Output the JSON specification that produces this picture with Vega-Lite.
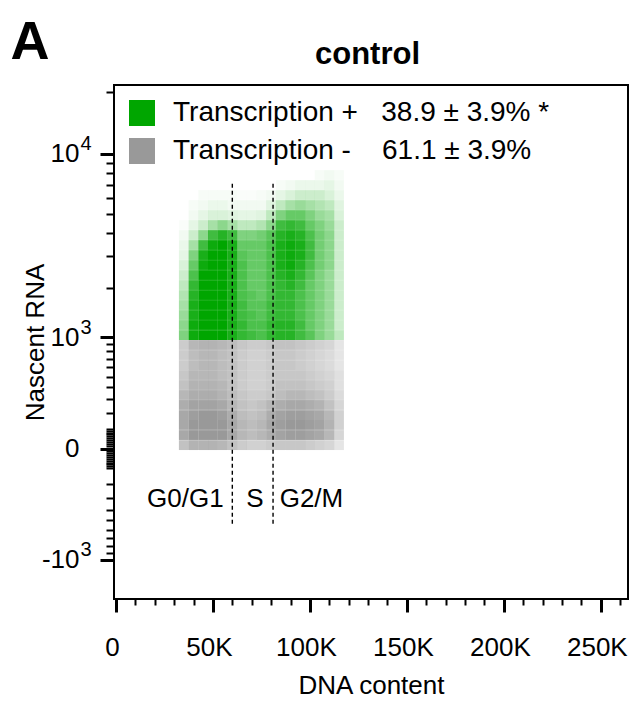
{
"$schema": "https://vega.github.io/schema/vega-lite/v6.json",
"width": 514, "height": 514,
"autosize": "none",
"padding": {"left": 114, "top": 85, "right": 2, "bottom": 102},
"background": "white",
"config": {
  "view": {"stroke": "black", "strokeWidth": 2},
  "font": "Liberation Sans",
  "axis": {"grid": false, "domain": false, "labelFont": "Liberation Sans", "titleFont": "Liberation Sans", "labelColor": "black", "titleColor": "black", "tickColor": "black", "titleFontWeight": "normal", "labelOverlap": false, "labelBound": false, "labelFlush": false}
},
"datasets": {
"pos": [
{"x":105,"y":7856,"d":0.03},{"x":110,"y":7856,"d":0.05},{"x":115,"y":7856,"d":0.03},
{"x":85,"y":7004,"d":0.03},{"x":90,"y":7004,"d":0.05},{"x":95,"y":7004,"d":0.08},{"x":100,"y":7004,"d":0.08},{"x":105,"y":7004,"d":0.08},{"x":110,"y":7004,"d":0.1},{"x":115,"y":7004,"d":0.05},
{"x":45,"y":6240,"d":0.03},{"x":50,"y":6240,"d":0.03},{"x":55,"y":6240,"d":0.03},{"x":60,"y":6240,"d":0.03},{"x":65,"y":6240,"d":0.02},{"x":70,"y":6240,"d":0.02},{"x":75,"y":6240,"d":0.03},{"x":80,"y":6240,"d":0.05},{"x":85,"y":6240,"d":0.1},{"x":90,"y":6240,"d":0.15},{"x":95,"y":6240,"d":0.2},{"x":100,"y":6240,"d":0.2},{"x":105,"y":6240,"d":0.2},{"x":110,"y":6240,"d":0.15},{"x":115,"y":6240,"d":0.08},
{"x":40,"y":5554,"d":0.03},{"x":45,"y":5554,"d":0.05},{"x":50,"y":5554,"d":0.08},{"x":55,"y":5554,"d":0.08},{"x":60,"y":5554,"d":0.05},{"x":65,"y":5554,"d":0.05},{"x":70,"y":5554,"d":0.05},{"x":75,"y":5554,"d":0.05},{"x":80,"y":5554,"d":0.12},{"x":85,"y":5554,"d":0.25},{"x":90,"y":5554,"d":0.35},{"x":95,"y":5554,"d":0.4},{"x":100,"y":5554,"d":0.35},{"x":105,"y":5554,"d":0.3},{"x":110,"y":5554,"d":0.25},{"x":115,"y":5554,"d":0.12},
{"x":40,"y":4939,"d":0.05},{"x":45,"y":4939,"d":0.1},{"x":50,"y":4939,"d":0.15},{"x":55,"y":4939,"d":0.15},{"x":60,"y":4939,"d":0.12},{"x":65,"y":4939,"d":0.1},{"x":70,"y":4939,"d":0.1},{"x":75,"y":4939,"d":0.12},{"x":80,"y":4939,"d":0.25},{"x":85,"y":4939,"d":0.5},{"x":90,"y":4939,"d":0.6},{"x":95,"y":4939,"d":0.6},{"x":100,"y":4939,"d":0.5},{"x":105,"y":4939,"d":0.4},{"x":110,"y":4939,"d":0.35},{"x":115,"y":4939,"d":0.15},
{"x":35,"y":4387,"d":0.02},{"x":40,"y":4387,"d":0.1},{"x":45,"y":4387,"d":0.2},{"x":50,"y":4387,"d":0.35},{"x":55,"y":4387,"d":0.45},{"x":60,"y":4387,"d":0.35},{"x":65,"y":4387,"d":0.25},{"x":70,"y":4387,"d":0.25},{"x":75,"y":4387,"d":0.3},{"x":80,"y":4387,"d":0.45},{"x":85,"y":4387,"d":0.75},{"x":90,"y":4387,"d":0.8},{"x":95,"y":4387,"d":0.75},{"x":100,"y":4387,"d":0.6},{"x":105,"y":4387,"d":0.5},{"x":110,"y":4387,"d":0.4},{"x":115,"y":4387,"d":0.2},
{"x":35,"y":3892,"d":0.05},{"x":40,"y":3892,"d":0.2},{"x":45,"y":3892,"d":0.45},{"x":50,"y":3892,"d":0.75},{"x":55,"y":3892,"d":0.85},{"x":60,"y":3892,"d":0.75},{"x":65,"y":3892,"d":0.5},{"x":70,"y":3892,"d":0.5},{"x":75,"y":3892,"d":0.55},{"x":80,"y":3892,"d":0.65},{"x":85,"y":3892,"d":0.85},{"x":90,"y":3892,"d":0.9},{"x":95,"y":3892,"d":0.85},{"x":100,"y":3892,"d":0.7},{"x":105,"y":3892,"d":0.55},{"x":110,"y":3892,"d":0.45},{"x":115,"y":3892,"d":0.2},
{"x":35,"y":3448,"d":0.08},{"x":40,"y":3448,"d":0.35},{"x":45,"y":3448,"d":0.75},{"x":50,"y":3448,"d":0.95},{"x":55,"y":3448,"d":1},{"x":60,"y":3448,"d":0.9},{"x":65,"y":3448,"d":0.6},{"x":70,"y":3448,"d":0.6},{"x":75,"y":3448,"d":0.6},{"x":80,"y":3448,"d":0.7},{"x":85,"y":3448,"d":0.9},{"x":90,"y":3448,"d":0.95},{"x":95,"y":3448,"d":0.9},{"x":100,"y":3448,"d":0.75},{"x":105,"y":3448,"d":0.55},{"x":110,"y":3448,"d":0.45},{"x":115,"y":3448,"d":0.2},
{"x":35,"y":3049,"d":0.1},{"x":40,"y":3049,"d":0.5},{"x":45,"y":3049,"d":0.9},{"x":50,"y":3049,"d":1},{"x":55,"y":3049,"d":1},{"x":60,"y":3049,"d":0.9},{"x":65,"y":3049,"d":0.65},{"x":70,"y":3049,"d":0.6},{"x":75,"y":3049,"d":0.6},{"x":80,"y":3049,"d":0.7},{"x":85,"y":3049,"d":0.9},{"x":90,"y":3049,"d":0.95},{"x":95,"y":3049,"d":0.9},{"x":100,"y":3049,"d":0.75},{"x":105,"y":3049,"d":0.55},{"x":110,"y":3049,"d":0.45},{"x":115,"y":3049,"d":0.2},
{"x":35,"y":2692,"d":0.15},{"x":40,"y":2692,"d":0.6},{"x":45,"y":2692,"d":0.95},{"x":50,"y":2692,"d":1},{"x":55,"y":2692,"d":1},{"x":60,"y":2692,"d":0.9},{"x":65,"y":2692,"d":0.7},{"x":70,"y":2692,"d":0.6},{"x":75,"y":2692,"d":0.6},{"x":80,"y":2692,"d":0.7},{"x":85,"y":2692,"d":0.9},{"x":90,"y":2692,"d":0.95},{"x":95,"y":2692,"d":0.85},{"x":100,"y":2692,"d":0.7},{"x":105,"y":2692,"d":0.55},{"x":110,"y":2692,"d":0.45},{"x":115,"y":2692,"d":0.2},
{"x":35,"y":2371,"d":0.2},{"x":40,"y":2371,"d":0.7},{"x":45,"y":2371,"d":1},{"x":50,"y":2371,"d":1},{"x":55,"y":2371,"d":1},{"x":60,"y":2371,"d":0.9},{"x":65,"y":2371,"d":0.7},{"x":70,"y":2371,"d":0.6},{"x":75,"y":2371,"d":0.6},{"x":80,"y":2371,"d":0.7},{"x":85,"y":2371,"d":0.85},{"x":90,"y":2371,"d":0.9},{"x":95,"y":2371,"d":0.8},{"x":100,"y":2371,"d":0.65},{"x":105,"y":2371,"d":0.5},{"x":110,"y":2371,"d":0.4},{"x":115,"y":2371,"d":0.2},
{"x":35,"y":2083,"d":0.25},{"x":40,"y":2083,"d":0.8},{"x":45,"y":2083,"d":1},{"x":50,"y":2083,"d":1},{"x":55,"y":2083,"d":1},{"x":60,"y":2083,"d":0.9},{"x":65,"y":2083,"d":0.7},{"x":70,"y":2083,"d":0.6},{"x":75,"y":2083,"d":0.6},{"x":80,"y":2083,"d":0.7},{"x":85,"y":2083,"d":0.8},{"x":90,"y":2083,"d":0.85},{"x":95,"y":2083,"d":0.75},{"x":100,"y":2083,"d":0.6},{"x":105,"y":2083,"d":0.5},{"x":110,"y":2083,"d":0.4},{"x":115,"y":2083,"d":0.2},
{"x":35,"y":1825,"d":0.3},{"x":40,"y":1825,"d":0.85},{"x":45,"y":1825,"d":1},{"x":50,"y":1825,"d":1},{"x":55,"y":1825,"d":1},{"x":60,"y":1825,"d":0.9},{"x":65,"y":1825,"d":0.7},{"x":70,"y":1825,"d":0.65},{"x":75,"y":1825,"d":0.6},{"x":80,"y":1825,"d":0.7},{"x":85,"y":1825,"d":0.8},{"x":90,"y":1825,"d":0.8},{"x":95,"y":1825,"d":0.7},{"x":100,"y":1825,"d":0.6},{"x":105,"y":1825,"d":0.5},{"x":110,"y":1825,"d":0.4},{"x":115,"y":1825,"d":0.2},
{"x":35,"y":1594,"d":0.35},{"x":40,"y":1594,"d":0.9},{"x":45,"y":1594,"d":1},{"x":50,"y":1594,"d":1},{"x":55,"y":1594,"d":1},{"x":60,"y":1594,"d":0.9},{"x":65,"y":1594,"d":0.75},{"x":70,"y":1594,"d":0.65},{"x":75,"y":1594,"d":0.65},{"x":80,"y":1594,"d":0.75},{"x":85,"y":1594,"d":0.8},{"x":90,"y":1594,"d":0.8},{"x":95,"y":1594,"d":0.7},{"x":100,"y":1594,"d":0.6},{"x":105,"y":1594,"d":0.5},{"x":110,"y":1594,"d":0.4},{"x":115,"y":1594,"d":0.2},
{"x":35,"y":1386,"d":0.4},{"x":40,"y":1386,"d":0.9},{"x":45,"y":1386,"d":1},{"x":50,"y":1386,"d":1},{"x":55,"y":1386,"d":1},{"x":60,"y":1386,"d":0.9},{"x":65,"y":1386,"d":0.75},{"x":70,"y":1386,"d":0.7},{"x":75,"y":1386,"d":0.65},{"x":80,"y":1386,"d":0.75},{"x":85,"y":1386,"d":0.8},{"x":90,"y":1386,"d":0.8},{"x":95,"y":1386,"d":0.7},{"x":100,"y":1386,"d":0.6},{"x":105,"y":1386,"d":0.5},{"x":110,"y":1386,"d":0.4},{"x":115,"y":1386,"d":0.2},
{"x":35,"y":1200,"d":0.45},{"x":40,"y":1200,"d":0.95},{"x":45,"y":1200,"d":1},{"x":50,"y":1200,"d":1},{"x":55,"y":1200,"d":1},{"x":60,"y":1200,"d":0.9},{"x":65,"y":1200,"d":0.8},{"x":70,"y":1200,"d":0.7},{"x":75,"y":1200,"d":0.7},{"x":80,"y":1200,"d":0.8},{"x":85,"y":1200,"d":0.85},{"x":90,"y":1200,"d":0.85},{"x":95,"y":1200,"d":0.75},{"x":100,"y":1200,"d":0.6},{"x":105,"y":1200,"d":0.5},{"x":110,"y":1200,"d":0.4},{"x":115,"y":1200,"d":0.2},
{"x":35,"y":1032,"d":0.5},{"x":40,"y":1032,"d":0.95},{"x":45,"y":1032,"d":1},{"x":50,"y":1032,"d":1},{"x":55,"y":1032,"d":1},{"x":60,"y":1032,"d":0.9},{"x":65,"y":1032,"d":0.8},{"x":70,"y":1032,"d":0.75},{"x":75,"y":1032,"d":0.7},{"x":80,"y":1032,"d":0.8},{"x":85,"y":1032,"d":0.85},{"x":90,"y":1032,"d":0.85},{"x":95,"y":1032,"d":0.75},{"x":100,"y":1032,"d":0.65},{"x":105,"y":1032,"d":0.5},{"x":110,"y":1032,"d":0.4},{"x":115,"y":1032,"d":0.25}
],
"neg": [
{"x":35,"y":883,"d":0.5},{"x":40,"y":883,"d":0.7},{"x":45,"y":883,"d":0.75},{"x":50,"y":883,"d":0.75},{"x":55,"y":883,"d":0.7},{"x":60,"y":883,"d":0.65},{"x":65,"y":883,"d":0.55},{"x":70,"y":883,"d":0.5},{"x":75,"y":883,"d":0.5},{"x":80,"y":883,"d":0.55},{"x":85,"y":883,"d":0.6},{"x":90,"y":883,"d":0.6},{"x":95,"y":883,"d":0.55},{"x":100,"y":883,"d":0.5},{"x":105,"y":883,"d":0.45},{"x":110,"y":883,"d":0.4},{"x":115,"y":883,"d":0.25},
{"x":35,"y":748,"d":0.5},{"x":40,"y":748,"d":0.65},{"x":45,"y":748,"d":0.7},{"x":50,"y":748,"d":0.7},{"x":55,"y":748,"d":0.65},{"x":60,"y":748,"d":0.6},{"x":65,"y":748,"d":0.5},{"x":70,"y":748,"d":0.45},{"x":75,"y":748,"d":0.45},{"x":80,"y":748,"d":0.5},{"x":85,"y":748,"d":0.55},{"x":90,"y":748,"d":0.55},{"x":95,"y":748,"d":0.5},{"x":100,"y":748,"d":0.45},{"x":105,"y":748,"d":0.4},{"x":110,"y":748,"d":0.35},{"x":115,"y":748,"d":0.25},
{"x":35,"y":627,"d":0.5},{"x":40,"y":627,"d":0.65},{"x":45,"y":627,"d":0.7},{"x":50,"y":627,"d":0.7},{"x":55,"y":627,"d":0.65},{"x":60,"y":627,"d":0.6},{"x":65,"y":627,"d":0.5},{"x":70,"y":627,"d":0.45},{"x":75,"y":627,"d":0.45},{"x":80,"y":627,"d":0.5},{"x":85,"y":627,"d":0.55},{"x":90,"y":627,"d":0.55},{"x":95,"y":627,"d":0.5},{"x":100,"y":627,"d":0.45},{"x":105,"y":627,"d":0.4},{"x":110,"y":627,"d":0.35},{"x":115,"y":627,"d":0.25},
{"x":35,"y":519,"d":0.55},{"x":40,"y":519,"d":0.7},{"x":45,"y":519,"d":0.7},{"x":50,"y":519,"d":0.7},{"x":55,"y":519,"d":0.65},{"x":60,"y":519,"d":0.6},{"x":65,"y":519,"d":0.5},{"x":70,"y":519,"d":0.45},{"x":75,"y":519,"d":0.45},{"x":80,"y":519,"d":0.5},{"x":85,"y":519,"d":0.55},{"x":90,"y":519,"d":0.55},{"x":95,"y":519,"d":0.55},{"x":100,"y":519,"d":0.5},{"x":105,"y":519,"d":0.45},{"x":110,"y":519,"d":0.4},{"x":115,"y":519,"d":0.3},
{"x":35,"y":422,"d":0.6},{"x":40,"y":422,"d":0.75},{"x":45,"y":422,"d":0.75},{"x":50,"y":422,"d":0.75},{"x":55,"y":422,"d":0.7},{"x":60,"y":422,"d":0.6},{"x":65,"y":422,"d":0.5},{"x":70,"y":422,"d":0.45},{"x":75,"y":422,"d":0.45},{"x":80,"y":422,"d":0.5},{"x":85,"y":422,"d":0.6},{"x":90,"y":422,"d":0.6},{"x":95,"y":422,"d":0.6},{"x":100,"y":422,"d":0.55},{"x":105,"y":422,"d":0.5},{"x":110,"y":422,"d":0.45},{"x":115,"y":422,"d":0.3},
{"x":35,"y":335,"d":0.7},{"x":40,"y":335,"d":0.8},{"x":45,"y":335,"d":0.8},{"x":50,"y":335,"d":0.8},{"x":55,"y":335,"d":0.75},{"x":60,"y":335,"d":0.65},{"x":65,"y":335,"d":0.55},{"x":70,"y":335,"d":0.5},{"x":75,"y":335,"d":0.5},{"x":80,"y":335,"d":0.55},{"x":85,"y":335,"d":0.65},{"x":90,"y":335,"d":0.7},{"x":95,"y":335,"d":0.7},{"x":100,"y":335,"d":0.65},{"x":105,"y":335,"d":0.6},{"x":110,"y":335,"d":0.5},{"x":115,"y":335,"d":0.35},
{"x":35,"y":257,"d":0.8},{"x":40,"y":257,"d":0.9},{"x":45,"y":257,"d":0.9},{"x":50,"y":257,"d":0.9},{"x":55,"y":257,"d":0.85},{"x":60,"y":257,"d":0.7},{"x":65,"y":257,"d":0.6},{"x":70,"y":257,"d":0.55},{"x":75,"y":257,"d":0.6},{"x":80,"y":257,"d":0.7},{"x":85,"y":257,"d":0.8},{"x":90,"y":257,"d":0.85},{"x":95,"y":257,"d":0.85},{"x":100,"y":257,"d":0.8},{"x":105,"y":257,"d":0.75},{"x":110,"y":257,"d":0.6},{"x":115,"y":257,"d":0.4},
{"x":35,"y":186,"d":0.85},{"x":40,"y":186,"d":0.95},{"x":45,"y":186,"d":1},{"x":50,"y":186,"d":1},{"x":55,"y":186,"d":0.95},{"x":60,"y":186,"d":0.8},{"x":65,"y":186,"d":0.65},{"x":70,"y":186,"d":0.6},{"x":75,"y":186,"d":0.65},{"x":80,"y":186,"d":0.8},{"x":85,"y":186,"d":0.9},{"x":90,"y":186,"d":0.95},{"x":95,"y":186,"d":0.95},{"x":100,"y":186,"d":0.9},{"x":105,"y":186,"d":0.85},{"x":110,"y":186,"d":0.7},{"x":115,"y":186,"d":0.45},
{"x":35,"y":124,"d":0.85},{"x":40,"y":124,"d":1},{"x":45,"y":124,"d":1},{"x":50,"y":124,"d":1},{"x":55,"y":124,"d":1},{"x":60,"y":124,"d":0.85},{"x":65,"y":124,"d":0.7},{"x":70,"y":124,"d":0.65},{"x":75,"y":124,"d":0.7},{"x":80,"y":124,"d":0.85},{"x":85,"y":124,"d":0.95},{"x":90,"y":124,"d":1},{"x":95,"y":124,"d":1},{"x":100,"y":124,"d":0.95},{"x":105,"y":124,"d":0.9},{"x":110,"y":124,"d":0.75},{"x":115,"y":124,"d":0.45},
{"x":35,"y":67,"d":0.85},{"x":40,"y":67,"d":1},{"x":45,"y":67,"d":1},{"x":50,"y":67,"d":1},{"x":55,"y":67,"d":1},{"x":60,"y":67,"d":0.85},{"x":65,"y":67,"d":0.7},{"x":70,"y":67,"d":0.65},{"x":75,"y":67,"d":0.7},{"x":80,"y":67,"d":0.8},{"x":85,"y":67,"d":0.9},{"x":90,"y":67,"d":0.95},{"x":95,"y":67,"d":0.95},{"x":100,"y":67,"d":0.9},{"x":105,"y":67,"d":0.85},{"x":110,"y":67,"d":0.7},{"x":115,"y":67,"d":0.4},
{"x":35,"y":16,"d":0.6},{"x":40,"y":16,"d":0.75},{"x":45,"y":16,"d":0.75},{"x":50,"y":16,"d":0.75},{"x":55,"y":16,"d":0.7},{"x":60,"y":16,"d":0.6},{"x":65,"y":16,"d":0.5},{"x":70,"y":16,"d":0.45},{"x":75,"y":16,"d":0.45},{"x":80,"y":16,"d":0.5},{"x":85,"y":16,"d":0.55},{"x":90,"y":16,"d":0.55},{"x":95,"y":16,"d":0.55},{"x":100,"y":16,"d":0.5},{"x":105,"y":16,"d":0.45},{"x":110,"y":16,"d":0.4},{"x":115,"y":16,"d":0.25}
],
"gates": [{"x": 60, "y": 7100, "y2": -540}, {"x": 81, "y": 7100, "y2": -540}],
"phases": [{"x": 35.8, "y": -310, "t": "G0/G1"}, {"x": 71.6, "y": -310, "t": "S"}, {"x": 100.8, "y": -310, "t": "G2/M"}]
},
"layer": [
{
  "data": {"name": "pos"},
  "mark": {"type": "point", "shape": "square", "filled": true, "size": 97, "strokeWidth": 0, "opacity": 1},
  "encoding": {
    "x": {"field": "x", "type": "quantitative", "scale": {"domain": [-1, 264], "nice": false, "zero": false},
      "axis": {"orient": "bottom", "values": [0, 50, 100, 150, 200, 250], "labelExpr": "datum.value == 0 ? '0' : datum.value + 'K'", "tickSize": 13, "tickWidth": 3, "labelFontSize": 26, "labelPadding": 22, "labelOffset": -4, "title": "DNA content", "titleFontSize": 26, "titleY": 94, "titleBaseline": "alphabetic"}},
    "y": {"field": "y", "type": "quantitative", "scale": {"type": "symlog", "constant": 425, "domain": [-1753, 21590], "nice": false, "zero": false},
      "axis": {"orient": "left", "values": [-1000, 0, 1000, 10000], "labelExpr": "datum.value == 0 ? '0' : (datum.value < 0 ? '-10' : '10')", "tickSize": 14, "tickWidth": 3, "labelFontSize": 26, "labelPadding": 21, "labelAlign": "right", "labelBaseline": "middle", "title": "Nascent RNA", "titleFontSize": 26, "titleX": -79, "titleY": 257, "titleAngle": -90, "titleBaseline": "middle", "titleAlign": "center"}},
    "color": {"datum": "Transcription +", "type": "nominal",
      "scale": {"domain": ["Transcription +", "Transcription -"], "range": ["#00a600", "#999999"]},
      "legend": {"title": null, "orient": "top-left", "offset": 14, "padding": 0, "symbolType": "square", "symbolSize": 676, "symbolStrokeWidth": 0, "symbolOpacity": 1, "labelFontSize": 28, "labelColor": "black", "labelLimit": 600, "labelOffset": 17, "rowPadding": 10,
        "labelExpr": "datum.label == 'Transcription +' ? 'Transcription +\u00a0\u00a0\u00a038.9 ± 3.9% *' : 'Transcription -\u00a0\u00a0\u00a0\u00a061.1 ± 3.9%'"}},
    "opacity": {"field": "d", "type": "quantitative", "scale": {"domain": [0, 1], "range": [0, 1]}, "legend": null}
  }
},
{
  "data": {"name": "neg"},
  "mark": {"type": "point", "shape": "square", "filled": true, "size": 97, "strokeWidth": 0, "opacity": 1},
  "encoding": {
    "x": {"field": "x", "type": "quantitative",
      "axis": {"orient": "bottom", "values": [10,20,30,40,60,70,80,90,110,120,130,140,160,170,180,190,210,220,230,240,260], "tickSize": 6, "tickWidth": 2, "labels": false, "title": null}},
    "y": {"field": "y", "type": "quantitative",
      "axis": {"orient": "left", "values": [-1000, 1000, 10000], "labelExpr": "datum.value == 10000 ? '4' : '3'", "tickSize": 14, "tickOpacity": 0, "labelFontSize": 20, "labelPadding": 20, "labelAlign": "left", "labelBaseline": "middle", "labelOffset": -10, "title": null}},
    "color": {"datum": "Transcription -", "type": "nominal"},
    "opacity": {"field": "d", "type": "quantitative", "legend": null}
  }
},
{
  "data": {"name": "gates"},
  "mark": {"type": "rule", "color": "black", "strokeWidth": 1.4, "strokeDash": [4, 3]},
  "encoding": {
    "x": {"field": "x", "type": "quantitative",
      "axis": {"orient": "top", "ticks": false, "labels": false, "title": "control", "titleFontSize": 31, "titleFontWeight": "bold", "titleX": 253, "titleY": -22, "titleBaseline": "alphabetic"}},
    "y": {"field": "y", "type": "quantitative",
      "axis": {"orient": "left", "values": [-900,-800,-700,-600,-500,-400,-300,-200,-100,-90,-80,-70,-60,-50,-40,-30,-20,-10,10,20,30,40,50,60,70,80,90,100,200,300,400,500,600,700,800,900,2000,3000,4000,5000,6000,7000,8000,9000,20000], "tickSize": 8, "tickWidth": 2, "labels": false,
        "title": "A", "titleAngle": 0, "titleX": -104, "titleY": -27, "titleAlign": "left", "titleBaseline": "alphabetic", "titleFontSize": 54, "titleFontWeight": "bold"}},
    "y2": {"field": "y2"}
  }
},
{
  "data": {"name": "phases"},
  "mark": {"type": "text", "fontSize": 26, "align": "center", "baseline": "middle", "color": "black"},
  "encoding": {
    "x": {"field": "x", "type": "quantitative", "axis": null},
    "y": {"field": "y", "type": "quantitative", "axis": null},
    "text": {"field": "t"}
  }
}
],
"resolve": {"scale": {"x": "shared", "y": "shared"}, "axis": {"x": "independent", "y": "independent"}}
}
